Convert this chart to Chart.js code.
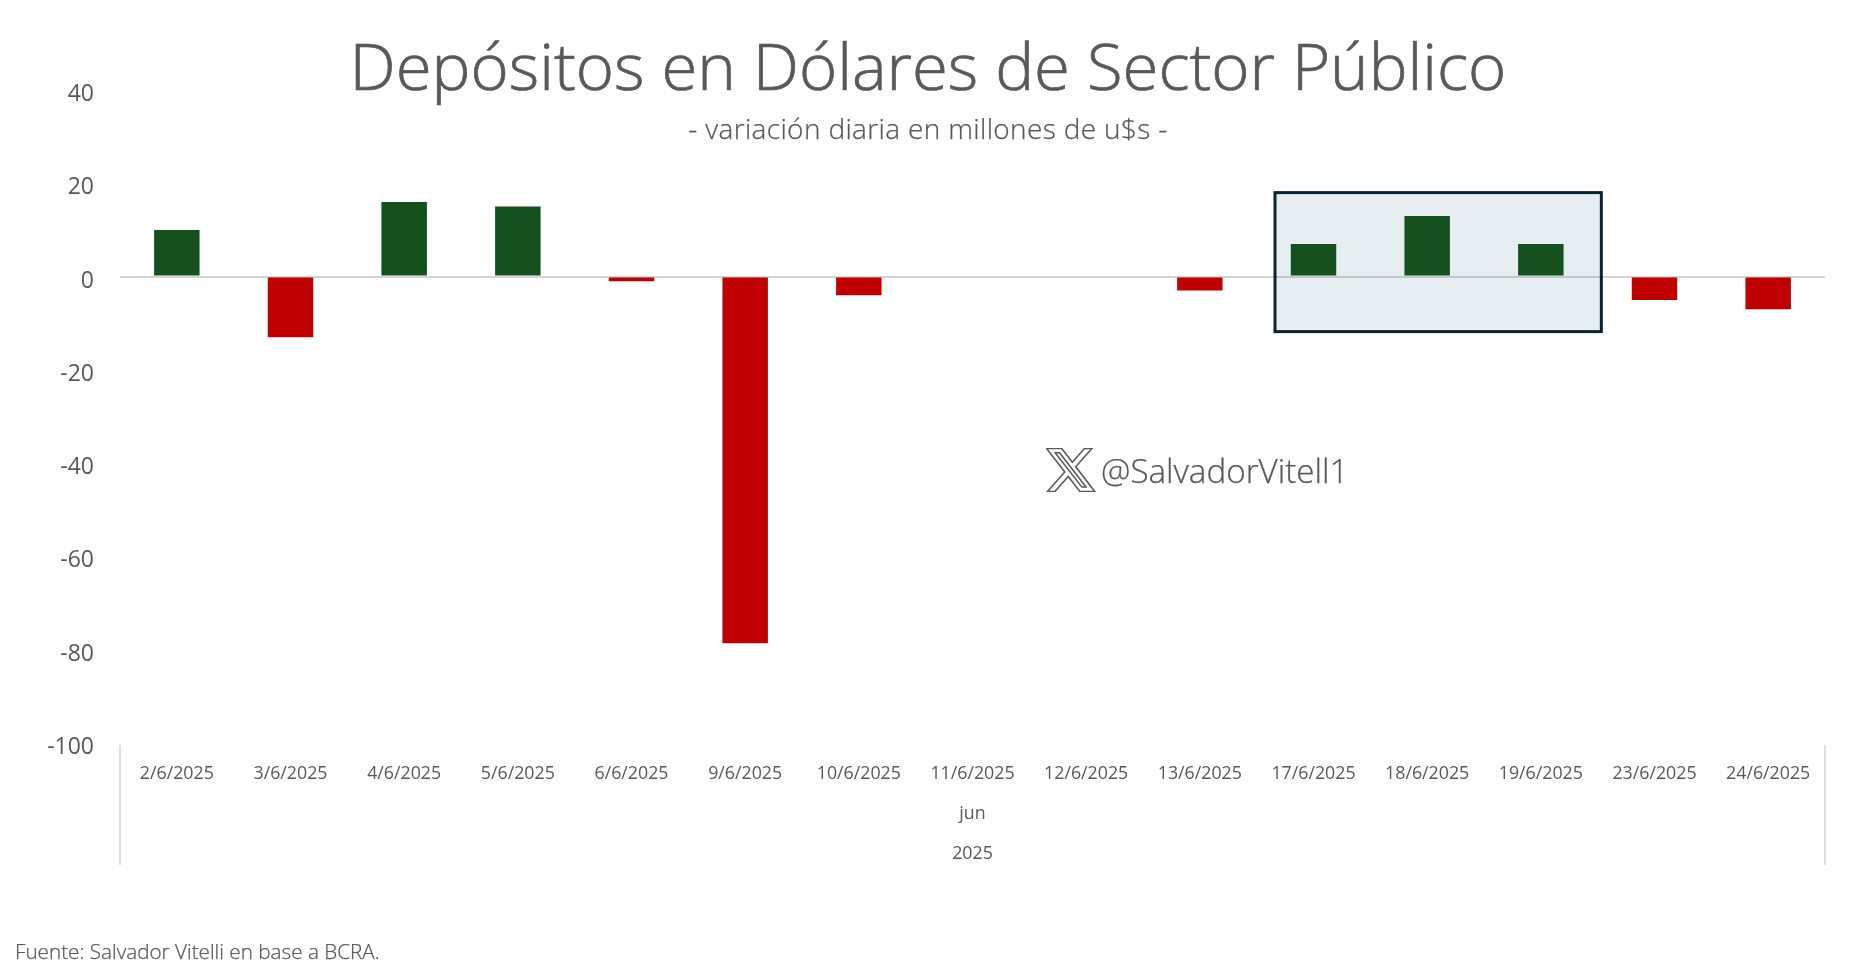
<!DOCTYPE html>
<html lang="es">
<head>
<meta charset="utf-8">
<title>Depósitos en Dólares de Sector Público</title>
<script src="https://cdn.jsdelivr.net/npm/chart.js@4"></script>
<style>
    html, body { margin: 0; padding: 0; background: #fff; }
    #wrap { position: relative; width: 1856px; height: 973px; overflow: hidden; color: #595959; font-family: "Open Sans", sans-serif; }
    #chart { position: absolute; left: 0; top: 0; }
    .txt { position: absolute; white-space: nowrap; line-height: 1; }
    #title { left: 0; width: 1856px; top: 32px; text-align: center; font-size: 65.3px; font-weight: 300; -webkit-text-stroke: .7px #595959; }
    #subtitle { left: 0; width: 1856px; top: 114px; text-align: center; font-size: 28px; font-weight: 300; letter-spacing: .35px; -webkit-text-stroke: .25px #595959; }
    #handle { left: 1101px; top: 454px; font-size: 33.2px; font-weight: 300; -webkit-text-stroke: .25px #595959; }
    #source { left: 15px; top: 941px; font-size: 20.7px; font-weight: 300; -webkit-text-stroke: .25px #595959; }
    #xlogo { position: absolute; left: 1046px; top: 448px; width: 50px; height: 44px; }
</style>
</head>
<body>
<div id="wrap">
    <canvas id="chart" width="1856" height="973"></canvas>
    <div class="txt" id="title">Depósitos en Dólares de Sector Público</div>
    <div class="txt" id="subtitle">- variación diaria en millones de u$s -</div>
    <svg id="xlogo" viewBox="1 2 22.4 20" preserveAspectRatio="none">
        <path d="M18.244 2.25h3.308l-7.227 8.26 8.502 11.24H16.17l-5.214-6.817L4.99 21.75H1.68l7.73-8.835L1.254 2.25H8.08l4.713 6.231zm-1.161 17.52h1.833L7.084 4.126H5.117z" fill="#fff" stroke="#595959" stroke-width=".7"/>
    </svg>
    <div class="txt" id="handle">@SalvadorVitell1</div>
    <div class="txt" id="source">Fuente: Salvador Vitelli en base a BCRA.</div>
</div>
<script>
var categories = ['2/6/2025', '3/6/2025', '4/6/2025', '5/6/2025', '6/6/2025', '9/6/2025', '10/6/2025', '11/6/2025',
    '12/6/2025', '13/6/2025', '17/6/2025', '18/6/2025', '19/6/2025', '23/6/2025', '24/6/2025'];
var values = [10, -13, 16, 15, -1, -78.6, -4, 0, 0, -3, 7, 13, 7, -5, -7];
var monthLabels = ['jun'];
var yearLabels = ['2025'];

var GREEN = '#14511f';
var RED = '#c00000';
var TEXT = '#595959';
var LINE = '#d4d4d4';

// highlighted box behind 17/6 - 19/6, and the two level separators under the axis
var extras = {
    id: 'extras',
    beforeDatasetsDraw: function(chart) {
        var x = chart.scales.x, y = chart.scales.y, ctx = chart.ctx;
        var left = x.getPixelForValue(10) - 38.5;
        var right = x.getPixelForValue(12) + 60.5;
        var top = y.getPixelForValue(18);
        var bottom = y.getPixelForValue(-11.8);
        ctx.save();
        ctx.fillStyle = '#e7eef2';
        ctx.strokeStyle = '#0b2233';
        ctx.lineWidth = 3;
        ctx.fillRect(left, top, right - left, bottom - top);
        ctx.strokeRect(left, top, right - left, bottom - top);
        ctx.restore();
    },
    afterDraw: function(chart) {
        var a = chart.chartArea, ctx = chart.ctx;
        ctx.save();
        ctx.strokeStyle = LINE;
        ctx.lineWidth = 1.5;
        [a.left, a.right].forEach(function(px) {
            ctx.beginPath();
            ctx.moveTo(px, a.bottom + 2);
            ctx.lineTo(px, chart.scales.x3.bottom - 8);
            ctx.stroke();
        });
        ctx.restore();
    }
};

function levelAxis(labels, height, pad) {
    return {
        type: 'category',
        position: 'bottom',
        labels: labels,
        offset: true,
        grid: { display: false, drawTicks: false },
        border: { display: false },
        ticks: { color: TEXT, font: { family: 'Open Sans', size: 17.8 }, padding: pad, maxRotation: 0 },
        afterFit: function(axis) { axis.height = height; }
    };
}

new Chart(document.getElementById('chart').getContext('2d'), {
    type: 'bar',
    data: {
        labels: categories,
        datasets: [{
            data: values,
            backgroundColor: values.map(function(v) { return v < 0 ? RED : GREEN; }),
            barPercentage: 0.4,
            categoryPercentage: 1
        }]
    },
    plugins: [extras],
    options: {
        responsive: false,
        animation: false,
        layout: { padding: { top: 90, right: 31, bottom: 100, left: 0 } },
        plugins: { legend: { display: false }, title: { display: false }, tooltip: { enabled: false } },
        scales: {
            x: {
                type: 'category',
                offset: true,
                grid: { display: false, drawTicks: false },
                border: { display: false },
                ticks: { color: TEXT, font: { family: 'Open Sans', size: 17.8 }, padding: 20.5, autoSkip: false, maxRotation: 0 },
                afterFit: function(axis) { axis.height = 50; }
            },
            x2: levelAxis(monthLabels, 40, 10.5),
            x3: levelAxis(yearLabels, 40, 10.5),
            y: {
                min: -100,
                max: 40,
                grid: {
                    z: 1,
                    drawTicks: false,
                    lineWidth: 2,
                    color: function(c) { return c.tick.value === 0 ? 'rgba(0,0,0,.17)' : 'transparent'; }
                },
                border: { display: false },
                ticks: { stepSize: 20, color: TEXT, font: { family: 'Open Sans', size: 23, weight: 400 }, padding: 26, labelOffset: 4.5 },
                afterFit: function(axis) { axis.width = 120; }
            }
        }
    }
});
</script>
</body>
</html>
